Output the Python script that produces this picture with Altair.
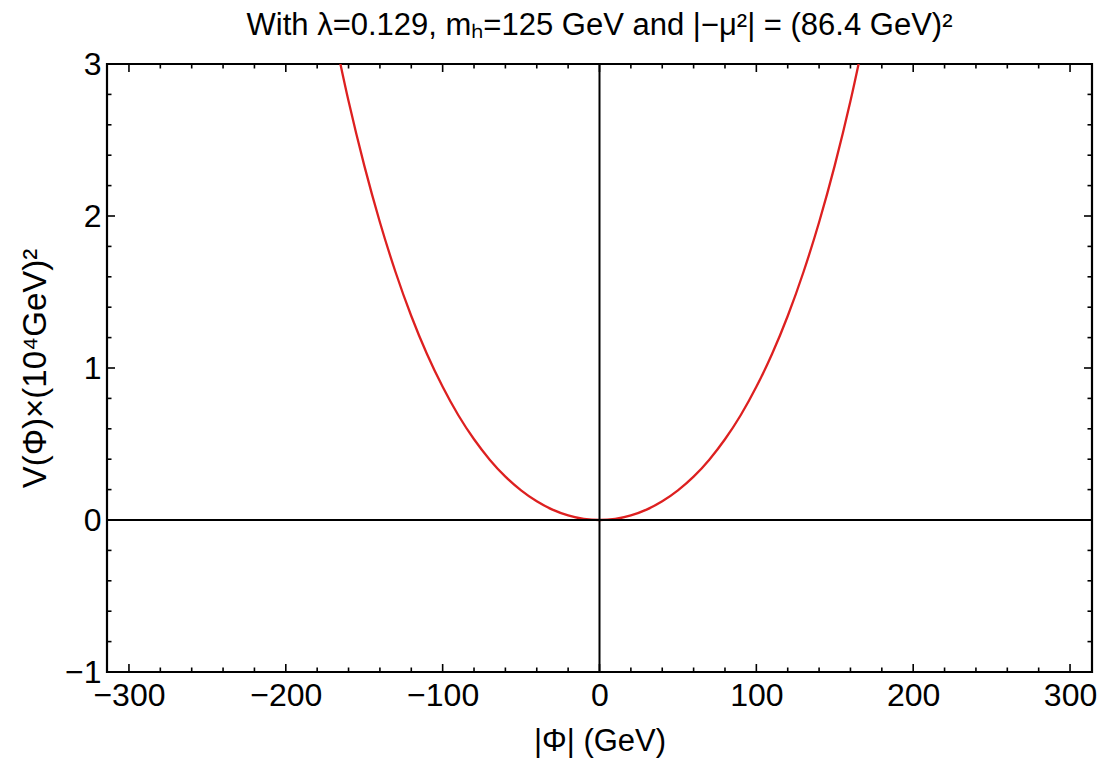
import altair as alt
import pandas as pd

# Curve values (|Phi| in GeV, V in 10^8 GeV^4)
phi = [-170, -160, -150, -140, -130, -120, -110, -100, -90, -80, -70, -60, -50, -40, -30, -20, -10,
       0, 10, 20, 30, 40, 50, 60, 70, 80, 90, 100, 110, 120, 130, 140, 150, 160, 170]
pot = [3.235, 2.756, 2.333, 1.959, 1.630, 1.342, 1.092, 0.876, 0.689, 0.531, 0.397, 0.285, 0.195, 0.123, 0.068, 0.030, 0.007,
       0.0, 0.007, 0.030, 0.068, 0.123, 0.195, 0.285, 0.397, 0.531, 0.689, 0.876, 1.092, 1.342, 1.630, 1.959, 2.333, 2.756, 3.235]

x_major = [-300, -200, -100, 0, 100, 200, 300]
x_minor = [v for v in range(-300, 301, 20) if v % 100 != 0]
y_major = [-1, 0, 1, 2, 3]
y_minor = [round(-1 + 0.2 * i, 1) for i in range(21) if i % 5 != 0]

X_DOMAIN = [-314, 314]
Y_DOMAIN = [-1, 3]
X_TITLE = "|Φ| (GeV)"
Y_TITLE = "V(Φ)×(10⁴GeV)²"

W, H = 985, 608
FONT = "Liberation Sans"
MAJ, MIN = 8, 4.5

xs = alt.Scale(domain=X_DOMAIN, nice=False, zero=False)
ys = alt.Scale(domain=Y_DOMAIN, nice=False, zero=False)

x_axis = alt.Axis(values=x_major, format="d", tickSize=0, domain=False, grid=False,
                  labelFont=FONT, labelFontSize=32, labelColor="black", labelPadding=8,
                  titleFont=FONT, titleFontSize=31, titleFontWeight="normal", titleColor="black",
                  titlePadding=15)
y_axis = alt.Axis(values=y_major, format="d", tickSize=0, domain=False, grid=False,
                  labelFont=FONT, labelFontSize=32, labelColor="black", labelPadding=6,
                  titleFont=FONT, titleFontSize=33, titleFontWeight="normal", titleColor="black",
                  titlePadding=12)


def X(field):
    return alt.X(field, type="quantitative", scale=xs, title=X_TITLE, axis=x_axis)


def Y(field):
    return alt.Y(field, type="quantitative", scale=ys, title=Y_TITLE, axis=y_axis)


df = pd.DataFrame({"phi": phi, "V": pot})

curve = alt.Chart(df).mark_line(color="#dd2020", strokeWidth=2.3, clip=True, interpolate="monotone").encode(
    x=X("phi"), y=Y("V"))


def xticks(vals, length):
    d = pd.DataFrame({"t": vals})
    bottom = alt.Chart(d).mark_rule(color="black", strokeWidth=1.6).encode(
        x=X("t"), y=alt.value(H), y2=alt.value(H - length))
    top = alt.Chart(d).mark_rule(color="black", strokeWidth=1.6).encode(
        x=X("t"), y=alt.value(0), y2=alt.value(length))
    return [bottom, top]


def yticks(vals, length):
    d = pd.DataFrame({"t": vals})
    left = alt.Chart(d).mark_rule(color="black", strokeWidth=1.6).encode(
        y=Y("t"), x=alt.value(0), x2=alt.value(length))
    right = alt.Chart(d).mark_rule(color="black", strokeWidth=1.6).encode(
        y=Y("t"), x=alt.value(W), x2=alt.value(W - length))
    return [left, right]


zero_h = alt.Chart(pd.DataFrame({"y": [0]})).mark_rule(color="black", strokeWidth=2).encode(y=Y("y"))
zero_v = alt.Chart(pd.DataFrame({"x": [0]})).mark_rule(color="black", strokeWidth=2).encode(x=X("x"))

layers = [curve, zero_h, zero_v] + xticks(x_major, MAJ) + xticks(x_minor, MIN) + yticks(y_major, MAJ) + yticks(y_minor, MIN)

chart = alt.layer(*layers).properties(
    width=W, height=H,
    background="white",
    autosize=alt.AutoSizeParams(type="none"),
    padding={"left": 99, "top": 56, "right": 8, "bottom": 86},
    title=alt.TitleParams("With λ=0.129, mₕ=125 GeV and |−μ²| = (86.4 GeV)²",
                          font=FONT, fontSize=31, fontWeight="normal", color="black", offset=6),
).configure_view(stroke="black", strokeWidth=2.2)

chart.save("out.html", embed_options={"renderer": "svg", "actions": False})
